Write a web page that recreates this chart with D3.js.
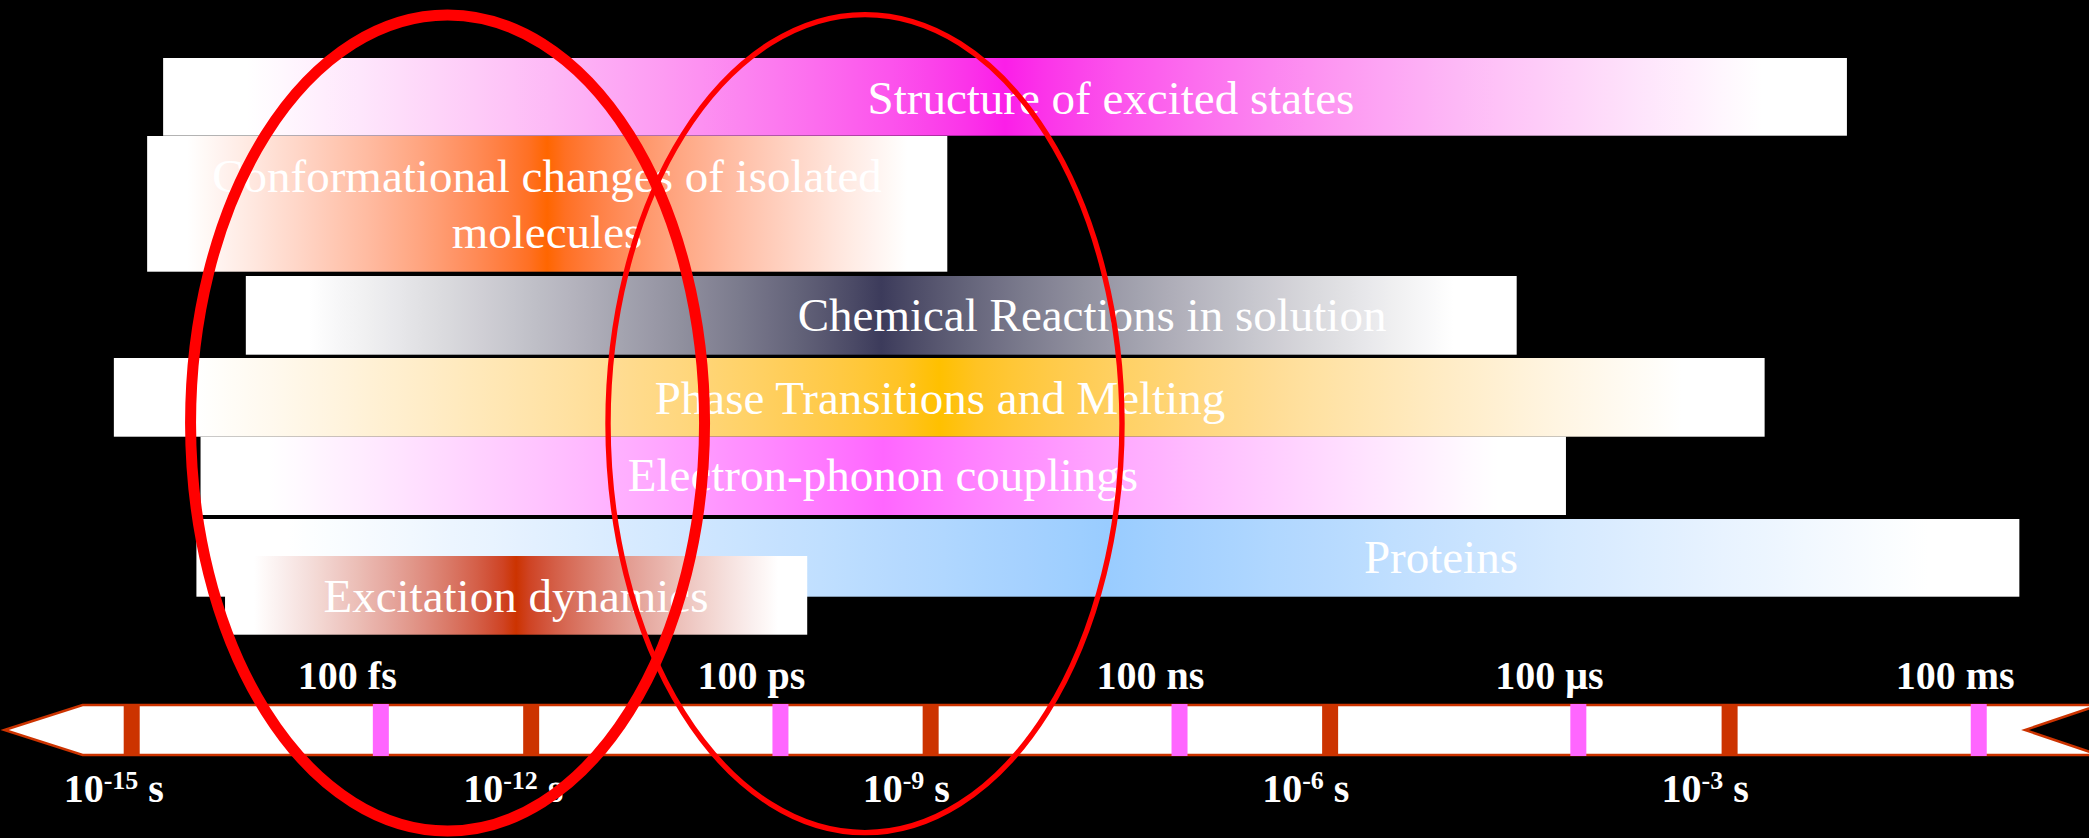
<!DOCTYPE html>
<html><head><meta charset="utf-8">
<script src="https://cdn.jsdelivr.net/npm/d3@7"></script>
<style>html,body{margin:0;padding:0;background:#000;overflow:hidden}svg{display:block}</style>
</head><body><svg id="c" width="2089" height="838"></svg>
<script>
// ---------------- data (time ranges as log10 of seconds) ----------------
const processes = [
  "Structure of excited states",
  "Conformational changes of isolated\nmolecules",
  "Chemical Reactions in solution",
  "Phase Transitions and Melting",
  "Electron-phonon couplings",
  "Proteins",
  "Excitation dynamics"
];
const startExp = [-14.764, -14.884, -14.143, -15.134, -14.483, -14.514, -14.299];
const endExp   = [-2.119,  -8.875,  -4.599,  -2.737,  -4.229,  -0.824,  -9.927];
const peakColors = ["#fb1ee8", "#ff6600", "#3c3b5b", "#ffc000", "#ff66ff", "#99ccff", "#cc3300"];

const majorTickExp = [-15, -12, -9, -6, -3];
const majorTickLabels = ["-15", "-12", "-9", "-6", "-3"];
const minorTickExp = [-13.129, -10.128, -7.131, -4.136, -1.129];
const minorTickLabels = ["100 fs", "100 ps", "100 ns", "100 \u03bcs", "100 ms"];

// highlighted regions (ellipses): centre in log10(s), half-width in decades
const highlightCentre = [-12.628, -9.493];
const highlightHalfWidth = [1.93, 1.93];

// ---------------- layout ----------------
const W = 2089, H = 838;
const rowTop    = [58, 136, 276, 358, 436.7, 519, 556];
const rowHeight = [77.7, 135.7, 78.7, 78.7, 78.3, 77.7, 78.7];
const labelCentreExp = [-7.646, -11.881, -7.788, -8.930, -9.358, -5.168, -12.114];
const labelBaseline  = [114, 191.7, 331, 414, 490.7, 573, 611.7];
const labelLineGap = 56.5;
const axisTop = 705, axisBottom = 755, axisMid = 730;

const svg = d3.select("#c");
svg.append("rect").attr("width", W).attr("height", H).attr("fill", "#000");

const x = d3.scaleLinear().domain([-15, -3]).range([131.7, 1729.6]);

// gradients (white - colour - white, gamma-corrected blend, small white margin at the ends)
const defs = svg.append("defs");
const whiteMargin = 0.05;
peakColors.forEach((c, i) => {
  const interp = d3.interpolateRgb.gamma(1.5)("#ffffff", c);
  const g = defs.append("linearGradient").attr("id", "g" + i)
    .attr("x1", "0").attr("x2", "1").attr("y1", "0").attr("y2", "0");
  const steps = d3.range(0, 1.0001, 0.05);
  g.append("stop").attr("offset", 0).attr("stop-color", "#fff");
  steps.forEach(t => g.append("stop").attr("offset", whiteMargin + t * (0.5 - whiteMargin)).attr("stop-color", interp(t)));
  steps.slice().reverse().forEach(t => g.append("stop").attr("offset", 1 - whiteMargin - t * (0.5 - whiteMargin)).attr("stop-color", interp(t)));
  g.append("stop").attr("offset", 1).attr("stop-color", "#fff");
});

// bars + labels
const bars = svg.append("g");
processes.forEach((name, i) => {
  bars.append("rect")
    .attr("x", x(startExp[i]))
    .attr("y", rowTop[i])
    .attr("width", x(endExp[i]) - x(startExp[i]))
    .attr("height", rowHeight[i])
    .attr("fill", `url(#g${i})`);
  const t = bars.append("text")
    .attr("x", x(labelCentreExp[i]))
    .attr("y", labelBaseline[i])
    .attr("text-anchor", "middle")
    .attr("fill", "#ffffff")
    .style("font-family", "'Liberation Serif','Times New Roman',serif")
    .style("font-size", "47px");
  name.split("\n").forEach((line, k) => {
    t.append("tspan").attr("x", x(labelCentreExp[i])).attr("y", labelBaseline[i] + k * labelLineGap).text(line);
  });
});

// axis arrow
const notchTip = 2025;
svg.append("polygon")
  .attr("points", [[4.5, axisMid], [82.6, axisTop], [W + 10, axisTop], [notchTip, axisMid], [W + 10, axisBottom], [82.6, axisBottom]].map(p => p.join(",")).join(" "))
  .attr("fill", "#ffffff")
  .attr("stroke", "#cc3300")
  .attr("stroke-width", 2.5)
  .attr("stroke-linejoin", "miter");

const tickW = 16;
svg.append("g").selectAll("rect").data(majorTickExp).join("rect")
  .attr("x", d => x(d) - tickW / 2).attr("y", axisTop - 1).attr("width", tickW).attr("height", axisBottom - axisTop + 2)
  .attr("fill", "#cc3300");
svg.append("g").selectAll("rect").data(minorTickExp).join("rect")
  .attr("x", d => x(d) - tickW / 2).attr("y", axisTop - 1).attr("width", tickW).attr("height", axisBottom - axisTop + 2)
  .attr("fill", "#ff66ff");

const labelFont = "'Liberation Serif','Times New Roman',serif";
svg.append("g").selectAll("text").data(minorTickExp).join("text")
  .attr("x", d => x(d) - 83).attr("y", 689)
  .attr("fill", "#fff").style("font-family", labelFont).style("font-weight", "bold").style("font-size", "40px")
  .text((d, i) => minorTickLabels[i]);

const bl = svg.append("g").selectAll("text").data(majorTickExp).join("text")
  .attr("x", d => x(d) - 68).attr("y", 802)
  .attr("fill", "#fff").style("font-family", labelFont).style("font-weight", "bold").style("font-size", "40px");
bl.append("tspan").text("10");
bl.append("tspan").attr("dy", -13).style("font-size", "26px").text((d, i) => majorTickLabels[i]);
bl.append("tspan").attr("dy", 13).text(" s");

// highlight ellipses
const ellipseCy = [423, 423.6], ellipseRy = [408, 409], ellipseStroke = [11, 5.4];
highlightCentre.forEach((c, i) => {
  svg.append("ellipse")
    .attr("cx", x(c))
    .attr("cy", ellipseCy[i])
    .attr("rx", x(c + highlightHalfWidth[i]) - x(c))
    .attr("ry", ellipseRy[i])
    .attr("fill", "none")
    .attr("stroke", "#ff0000")
    .attr("stroke-width", ellipseStroke[i]);
});
</script></body></html>
